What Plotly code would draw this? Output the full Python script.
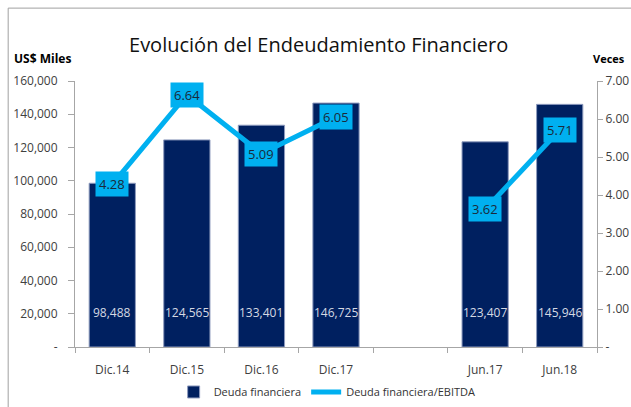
import plotly.graph_objects as go

categories = ["Dic.14", "Dic.15", "Dic.16", "Dic.17", " ", "Jun.17", "Jun.18"]
deuda = [98488, 124565, 133401, 146725, None, 123407, 145946]
ratio = [4.28, 6.64, 5.09, 6.05, None, 3.62, 5.71]
left_ticks = [0, 20000, 40000, 60000, 80000, 100000, 120000, 140000, 160000]
left_ticktext = ["-", "20,000", "40,000", "60,000", "80,000", "100,000", "120,000", "140,000", "160,000"]
right_ticks = [0, 1, 2, 3, 4, 5, 6, 7]
right_ticktext = ["-", "1.00", "2.00", "3.00", "4.00", "5.00", "6.00", "7.00"]
bar_label_level = 20500

NAVY = "#002060"
CYAN = "#00B0F0"
FONT = "Open Sans"

fig = go.Figure()
fig.add_trace(go.Bar(
    x=categories, y=deuda, name="Deuda financiera",
    marker=dict(color=NAVY, line=dict(color="#8E9BBE", width=1)),
    yaxis="y",
))
fig.add_trace(go.Scatter(
    x=categories, y=ratio, name="Deuda financiera/EBITDA",
    mode="lines", line=dict(color=CYAN, width=5),
    connectgaps=False, yaxis="y2",
))

annotations = []
for c, v in zip(categories, deuda):
    if v is None:
        continue
    annotations.append(dict(
        x=c, y=bar_label_level, xref="x", yref="y", text=f"{v:,}",
        showarrow=False, font=dict(family=FONT, size=12, color="#D5D9E3"),
    ))
for c, v in zip(categories, ratio):
    if v is None:
        continue
    annotations.append(dict(
        x=c, y=v, xref="x", yref="y2", text=f"{v:.2f}",
        showarrow=False, bgcolor=CYAN, borderpad=3,
        font=dict(family=FONT, size=13, color="#1A2A3A"),
    ))
annotations += [
    dict(text="<b>US$ Miles</b>", xref="paper", yref="paper", x=-0.121, y=1.086,
         xanchor="left", yanchor="middle", showarrow=False,
         font=dict(family=FONT, size=12, color="#000000")),
    dict(text="<b>Veces</b>", xref="paper", yref="paper", x=0.988, y=1.086,
         xanchor="left", yanchor="middle", showarrow=False,
         font=dict(family=FONT, size=11, color="#000000")),
]

fig.update_layout(
    width=631, height=407,
    margin=dict(l=75, r=34, t=81, b=60, autoexpand=False),
    paper_bgcolor="white", plot_bgcolor="white",
    title=dict(text="Evolución del Endeudamiento Financiero", x=0.505, xanchor="center",
               y=0.89, yanchor="middle",
               font=dict(family=FONT, size=20, color="#111111")),
    bargap=0.38,
    showlegend=True,
    legend=dict(orientation="h", x=0.483, xanchor="center", y=-0.169, yanchor="middle",
                font=dict(family=FONT, size=11, color="#333333"), itemwidth=30,
                tracegroupgap=0),
    xaxis=dict(
        type="category", categoryorder="array", categoryarray=categories,
        showline=True, linecolor="#A6A6A6", linewidth=1,
        ticks="outside", tickson="boundaries", ticklen=5, tickcolor="#A6A6A6",
        ticklabelstandoff=12, automargin=False,
        tickfont=dict(family=FONT, size=12, color="#404040"),
        showgrid=False, zeroline=False,
    ),
    yaxis=dict(
        range=[0, 160000], tickvals=left_ticks, ticktext=left_ticktext,
        showline=True, linecolor="#A6A6A6", linewidth=1,
        ticks="outside", ticklen=6, tickcolor="#A6A6A6",
        ticklabelstandoff=8,
        tickfont=dict(family=FONT, size=12, color="#404040"),
        showgrid=False, zeroline=False, automargin=False,
    ),
    yaxis2=dict(
        range=[0, 7], tickvals=right_ticks, ticktext=right_ticktext,
        overlaying="y", side="right",
        showline=True, linecolor="#A6A6A6", linewidth=1,
        ticks="outside", ticklen=5, tickcolor="#A6A6A6",
        tickfont=dict(family=FONT, size=12, color="#404040"),
        showgrid=False, zeroline=False, automargin=False,
    ),
    annotations=annotations,
    shapes=[
        dict(type="rect", xref="paper", yref="paper", x0=-0.128, x1=1.15, y0=-0.3, y1=1.274,
             line=dict(color="#A0A0A0", width=1), fillcolor="rgba(0,0,0,0)", layer="above"),
    ],
)

fig.write_html("out.html", config={"displayModeBar": False},
               post_script="document.body.style.margin='0';document.body.style.padding='0';")
